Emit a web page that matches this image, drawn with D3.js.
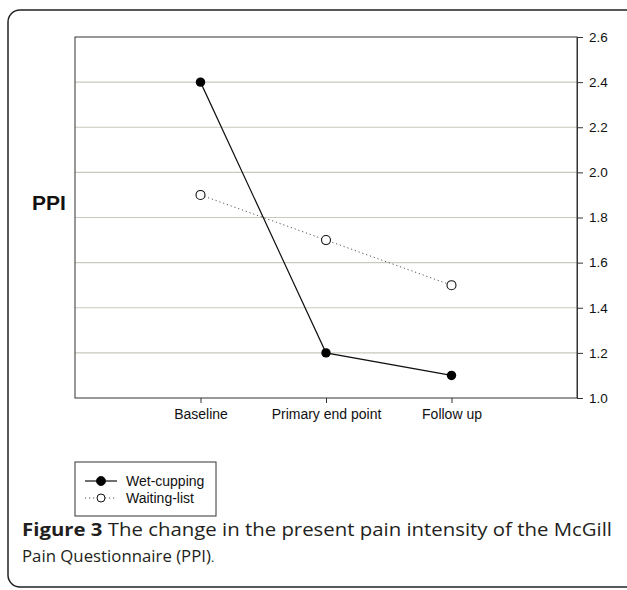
<!DOCTYPE html>
<html>
<head>
<meta charset="utf-8">
<script src="https://cdn.jsdelivr.net/npm/d3@7"></script>
<style>
  body { margin: 0; background: #fff; }
  svg { display: block; }
</style>
</head>
<body>
<svg id="chart" width="627" height="590"></svg>
<script>
const categories = ["Baseline", "Primary end point", "Follow up"];
const wetCupping = [2.4, 1.2, 1.1];
const waitingList = [1.9, 1.7, 1.5];
const yTicks = [1.0, 1.2, 1.4, 1.6, 1.8, 2.0, 2.2, 2.4, 2.6];

const svg = d3.select("#chart");
const plot = {left: 75, right: 577, top: 37, bottom: 398};

// outer frame
svg.append("rect")
    .attr("x", 8).attr("y", 10)
    .attr("width", 630).attr("height", 577)
    .attr("rx", 12)
    .attr("fill", "none")
    .attr("stroke", "#222")
    .attr("stroke-width", 1.5);

const x = d3.scaleLinear().domain([-1, 3]).range([plot.left, plot.right]);
const y = d3.scaleLinear().domain([1.0, 2.6]).range([plot.bottom, plot.top]);

// gridlines
svg.append("g")
    .selectAll("line")
    .data(yTicks.filter(d => d > 1.0 && d < 2.6))
    .join("line")
    .attr("x1", plot.left).attr("x2", plot.right)
    .attr("y1", d => y(d)).attr("y2", d => y(d))
    .attr("stroke", "#c9c9bf")
    .attr("stroke-width", 1.2);

// plot border
svg.append("rect")
    .attr("x", plot.left).attr("y", plot.top)
    .attr("width", plot.right - plot.left).attr("height", plot.bottom - plot.top)
    .attr("fill", "none")
    .attr("stroke", "#333")
    .attr("stroke-width", 1);

// right axis
const yAxis = svg.append("g")
    .attr("transform", `translate(${plot.right},0)`)
    .call(d3.axisRight(y).tickValues(yTicks).tickFormat(d3.format(".1f")).tickSize(6).tickPadding(6));
yAxis.select(".domain").attr("stroke", "#333");
yAxis.selectAll(".tick line").attr("stroke", "#333");
yAxis.selectAll("text")
    .attr("font-family", "Liberation Sans, Arial, sans-serif")
    .attr("font-size", 13.5)
    .attr("fill", "#111");

// bottom axis
const xAxis = svg.append("g")
    .attr("transform", `translate(0,${plot.bottom})`)
    .call(d3.axisBottom(x).tickValues([0, 1, 2]).tickFormat(i => categories[i]).tickSize(5).tickPadding(6));
xAxis.select(".domain").remove();
xAxis.selectAll(".tick line").attr("stroke", "#333");
xAxis.selectAll("text")
    .attr("font-family", "Liberation Sans, Arial, sans-serif")
    .attr("font-size", 14)
    .attr("fill", "#111");

// y label
svg.append("text")
    .attr("x", 32).attr("y", 210)
    .attr("font-family", "Liberation Sans, Arial, sans-serif")
    .attr("font-size", 21)
    .attr("font-weight", "bold")
    .attr("fill", "#111")
    .text("PPI");

const line = d3.line().x((d, i) => x(i)).y(d => y(d));

svg.append("path")
    .datum(waitingList)
    .attr("d", line)
    .attr("fill", "none")
    .attr("stroke", "#555")
    .attr("stroke-width", 1)
    .attr("stroke-dasharray", "1.2,2.8");

svg.append("path")
    .datum(wetCupping)
    .attr("d", line)
    .attr("fill", "none")
    .attr("stroke", "#111")
    .attr("stroke-width", 1.2);

svg.append("g")
    .selectAll("circle")
    .data(waitingList)
    .join("circle")
    .attr("cx", (d, i) => x(i)).attr("cy", d => y(d))
    .attr("r", 4.5)
    .attr("fill", "#fff")
    .attr("stroke", "#111")
    .attr("stroke-width", 1.1);

svg.append("g")
    .selectAll("circle")
    .data(wetCupping)
    .join("circle")
    .attr("cx", (d, i) => x(i)).attr("cy", d => y(d))
    .attr("r", 4.7)
    .attr("fill", "#000");

// legend
const legend = svg.append("g");
legend.append("rect")
    .attr("x", 75).attr("y", 462)
    .attr("width", 141).attr("height", 54)
    .attr("fill", "#fff")
    .attr("stroke", "#333")
    .attr("stroke-width", 1);

const legendItems = [
    {name: "Wet-cupping", filled: true},
    {name: "Waiting-list", filled: false}
];
legendItems.forEach((item, i) => {
    const ly = 481 + i * 17;
    legend.append("line")
        .attr("x1", 85).attr("x2", 117)
        .attr("y1", ly).attr("y2", ly)
        .attr("stroke", item.filled ? "#111" : "#555")
        .attr("stroke-width", item.filled ? 1.2 : 1)
        .attr("stroke-dasharray", item.filled ? null : "1.2,2.8");
    legend.append("circle")
        .attr("cx", 101).attr("cy", ly)
        .attr("r", item.filled ? 4.5 : 4)
        .attr("fill", item.filled ? "#000" : "#fff")
        .attr("stroke", "#111")
        .attr("stroke-width", 1);
    legend.append("text")
        .attr("x", 126).attr("y", ly + 5)
        .attr("font-family", "Liberation Sans, Arial, sans-serif")
        .attr("font-size", 14)
        .attr("fill", "#111")
        .text(item.name);
});

// caption
const caption = svg.append("g")
    .attr("font-family", "Open Sans, Noto Sans, sans-serif")
    .attr("font-size", 18.5)
    .attr("fill", "#231f20");
const line1 = caption.append("text")
    .attr("x", 22).attr("y", 536)
    .attr("textLength", 590)
    .attr("lengthAdjust", "spacingAndGlyphs");
line1.append("tspan").attr("font-weight", "bold").text("Figure 3");
line1.append("tspan").text(" The change in the present pain intensity of the McGill");
const line2 = caption.append("text")
    .attr("x", 22).attr("y", 562)
    .attr("font-size", 16.8);
line2.append("tspan").text("Pain Questionnaire (PPI)");
line2.append("tspan").attr("font-size", 12).text(".");
</script>
</body>
</html>
